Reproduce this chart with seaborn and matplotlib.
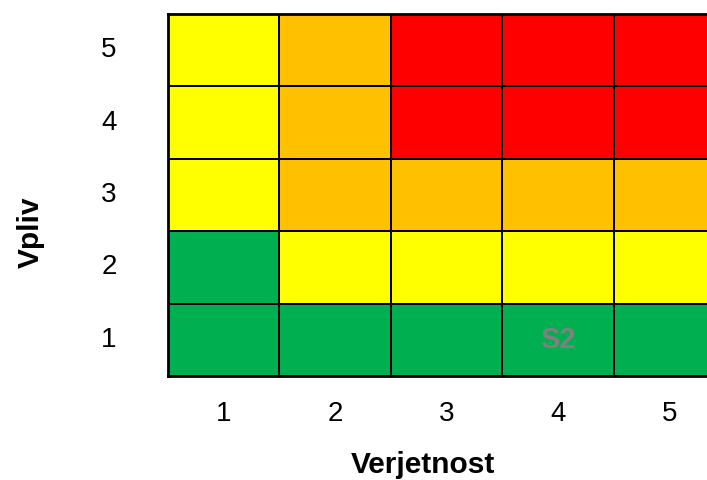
# -- coding:utf-8 --
# Matrika tveganj (verjetnost x vpliv)
import numpy as np
import pandas as pd
import matplotlib
matplotlib.use('Agg')
import matplotlib.pyplot as plt
from matplotlib.colors import ListedColormap
import seaborn as sns

verjetnost = [1, 2, 3, 4, 5]
vpliv = [5, 4, 3, 2, 1]
# 0 = nizko, 1 = srednje, 2 = visoko, 3 = zelo visoko
stopnja = [
    [1, 2, 3, 3, 3],
    [1, 2, 3, 3, 3],
    [1, 2, 2, 2, 2],
    [0, 1, 1, 1, 1],
    [0, 0, 0, 0, 0],
]
oznake = [
    ['', '', '', '', ''],
    ['', '', '', '', ''],
    ['', '', '', '', ''],
    ['', '', '', '', ''],
    ['', '', '', 'S2', ''],
]

barve = ['#00B050', '#FFFF00', '#FFC000', '#FF0000']

sns.set_style('white')
plt.rcParams['font.family'] = ['Liberation Sans', 'DejaVu Sans']
plt.rcParams['text.color'] = 'black'
plt.rcParams['xtick.color'] = 'black'
plt.rcParams['ytick.color'] = 'black'
plt.rcParams['axes.labelcolor'] = 'black'

df = pd.DataFrame(stopnja, index=vpliv, columns=verjetnost)

fig = plt.figure(figsize=(7.07, 4.8), dpi=100)
ax = fig.add_axes([168 / 707, 104 / 480, 557 / 707, 362 / 480])
sns.heatmap(df, ax=ax, cmap=ListedColormap(barve), vmin=-0.5, vmax=3.5,
            cbar=False, linewidths=1.3, linecolor='black',
            annot=np.array(oznake), fmt='',
            annot_kws={'color': '#808080', 'fontsize': 21, 'fontweight': 'bold'})

for s in ax.spines.values():
    s.set_visible(True)
    s.set_linewidth(2)
    s.set_color('black')

ax.tick_params(axis='both', length=0, labelsize=20)
ax.tick_params(axis='x', pad=18)
ax.tick_params(axis='y', pad=37)
plt.setp(ax.get_yticklabels(), rotation=0)

ax.set_xlabel('Verjetnost', fontsize=21.5, fontweight='bold', va='center')
ax.set_ylabel('Vpliv', fontsize=21.5, fontweight='bold', va='center')
ax.xaxis.set_label_coords(0.458, -0.246)
ax.yaxis.set_label_coords(-0.246, 0.398)

fig.savefig('out.png', dpi=100)
